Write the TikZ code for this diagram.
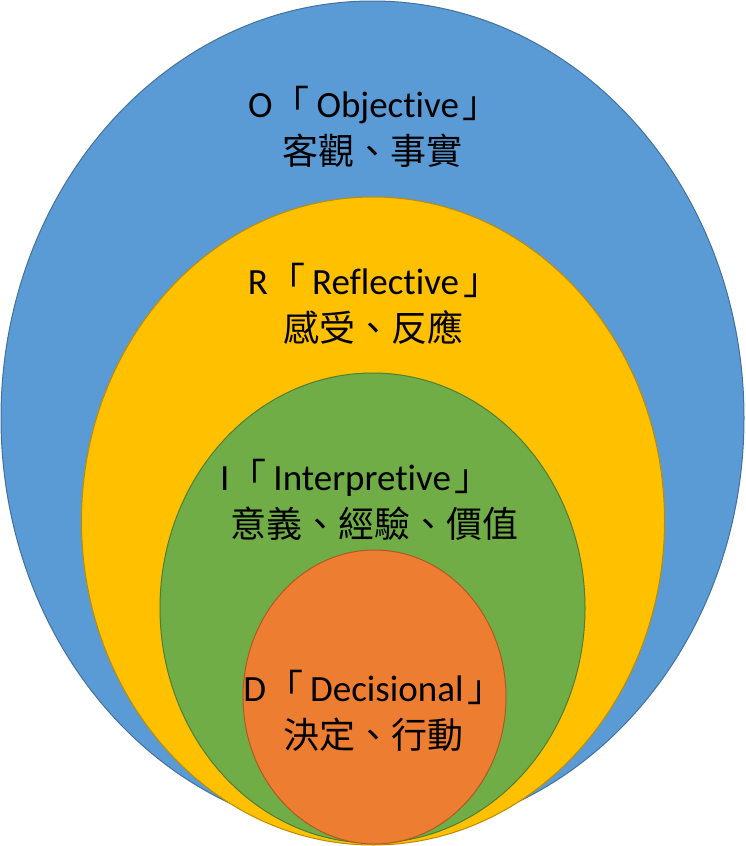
\documentclass[tikz,border=0pt]{standalone}
\usepackage{fontspec}
\setmainfont{Carlito}[Ligatures=NoCommon]
\newfontfamily\cjk{Noto Sans CJK TC}
\usepackage{xcolor}
\definecolor{objblue}{HTML}{5B9BD5}
\definecolor{objedge}{HTML}{41719C}
\definecolor{refyellow}{HTML}{FFC000}
\definecolor{refedge}{HTML}{BC8C00}
\definecolor{intgreen}{HTML}{70AD47}
\definecolor{intedge}{HTML}{507E32}
\definecolor{decorange}{HTML}{ED7D31}
\definecolor{decedge}{HTML}{AE5A21}
\newcommand{\openmark}{{\cjk 「}\hspace{7pt}}
\newcommand{\closemark}{\hspace{4pt}{\cjk 」}}

\begin{document}
\begin{tikzpicture}[x=1pt,y=-1pt,
		ring/.style={line width=1pt},
		ringtitle/.style={anchor=base,inner sep=0pt,font=\fontsize{37}{44}\selectfont},
		ringwords/.style={anchor=base,inner sep=0pt,font=\cjk\fontsize{36}{44}\selectfont}]
		\useasboundingbox (0,0) rectangle (745,846);
		%rings
		\draw[ring,fill=objblue,draw=objedge] (372.5,418) ellipse (371.5 and 417);
		\draw[ring,fill=refyellow,draw=refedge] (373,521) ellipse (291.5 and 324);
		\draw[ring,fill=intgreen,draw=intedge] (372.5,608) ellipse (212.5 and 235);
		\draw[ring,fill=decorange,draw=decedge] (374.5,697) ellipse (131.5 and 147);
		%objective
		\node[ringtitle] (otitle) at (374,117) {O\openmark Objective\closemark};
		\node[ringwords] (owords) at (372,164) {客觀、事實};
		%reflective
		\node[ringtitle] (rtitle) at (374,294) {R\openmark Reflective\closemark};
		\node[ringwords] (rwords) at (373,341) {感受、反應};
		%interpretive
		\node[ringtitle] (ititle) at (356,490) {I\openmark Interpretive\closemark};
		\node[ringwords] (iwords) at (374,537) {意義、經驗、價值};
		%decisional
		\node[ringtitle] (dtitle) at (374,701) {D\openmark Decisional\closemark};
		\node[ringwords] (dwords) at (373,748) {決定、行動};
\end{tikzpicture}
\end{document}
